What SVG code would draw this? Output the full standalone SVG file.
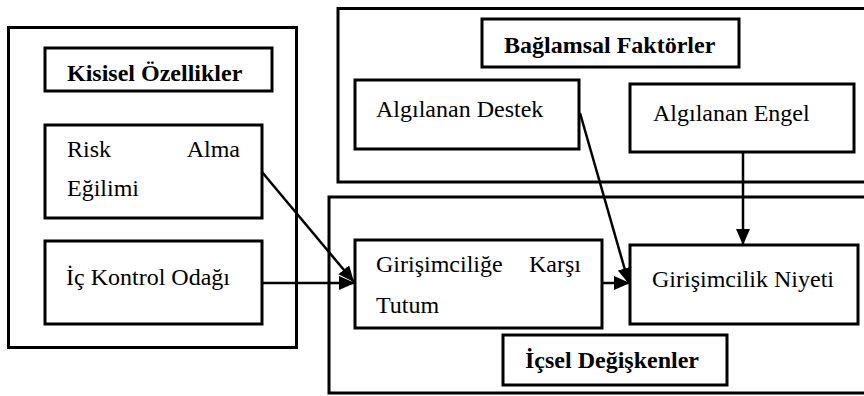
<svg xmlns="http://www.w3.org/2000/svg" width="864" height="396" viewBox="0 0 864 396">
<style>
.box{fill:none;stroke:#000;stroke-width:3}
.outer{fill:none;stroke:#000;stroke-width:3}
text{font-size:24px;fill:#000}
.b{font-weight:bold}
.con{stroke:#000;stroke-width:2.5;fill:none;marker-end:url(#ah)}
</style>
<defs>
<marker id="ah" markerUnits="userSpaceOnUse" markerWidth="18" markerHeight="16" refX="16" refY="7" orient="auto">
<path d="M0,0 L16,7 L0,14 Z" fill="#000"/>
</marker>
</defs>
<rect width="864" height="396" fill="#fff"/>
<g font-family="'Liberation Serif', 'Times New Roman', Times, serif">
<g id="kisisel-group">
<rect class="outer" x="8.5" y="27.5" width="288" height="320"/>
<g id="kisisel-header">
<rect class="box" x="45" y="48" width="227" height="43"/>
<text class="b" x="67" y="81">Kisisel Özellikler</text>
</g>
<g id="risk">
<rect class="box" x="45" y="125" width="217" height="93"/>
<text x="67" y="157">Risk</text>
<text x="240" y="157" text-anchor="end">Alma</text>
<text x="67" y="196">Eğilimi</text>
</g>
<g id="ic-kontrol">
<rect class="box" x="45" y="241" width="217" height="83"/>
<text x="66" y="285">İç Kontrol Odağı</text>
</g>
</g>
<g id="baglamsal-group">
<rect class="outer" x="338" y="8.5" width="530" height="173.5"/>
<g id="baglamsal-header">
<rect class="box" x="482" y="19" width="257" height="48"/>
<text class="b" x="504" y="53">Bağlamsal Faktörler</text>
</g>
<g id="destek">
<rect class="box" x="355" y="80" width="224" height="69"/>
<text x="376" y="117">Algılanan Destek</text>
</g>
<g id="engel">
<rect class="box" x="630" y="84" width="224" height="68"/>
<text x="653" y="121">Algılanan Engel</text>
</g>
</g>
<g id="icsel-group">
<rect class="outer" x="329" y="197" width="539" height="196"/>
<g id="tutum">
<rect class="box" x="355" y="240" width="247" height="88"/>
<text x="376" y="272">Girişimciliğe</text>
<text x="581" y="272" text-anchor="end">Karşı</text>
<text x="376" y="313">Tutum</text>
</g>
<g id="niyet">
<rect class="box" x="630" y="245" width="228" height="79"/>
<text x="652" y="287">Girişimcilik Niyeti</text>
</g>
<g id="icsel-header">
<rect class="box" x="503" y="335" width="224" height="50"/>
<text class="b" x="525" y="368">İçsel Değişkenler</text>
</g>
</g>
</g>
<g id="connectors">
<line class="con" x1="262" y1="172" x2="354" y2="282"/>
<line class="con" x1="262" y1="283" x2="355" y2="283"/>
<line class="con" x1="580" y1="113" x2="629" y2="284"/>
<line class="con" x1="743" y1="152" x2="743" y2="245"/>
<line class="con" x1="602" y1="283" x2="630" y2="283"/>
</g>
</svg>
